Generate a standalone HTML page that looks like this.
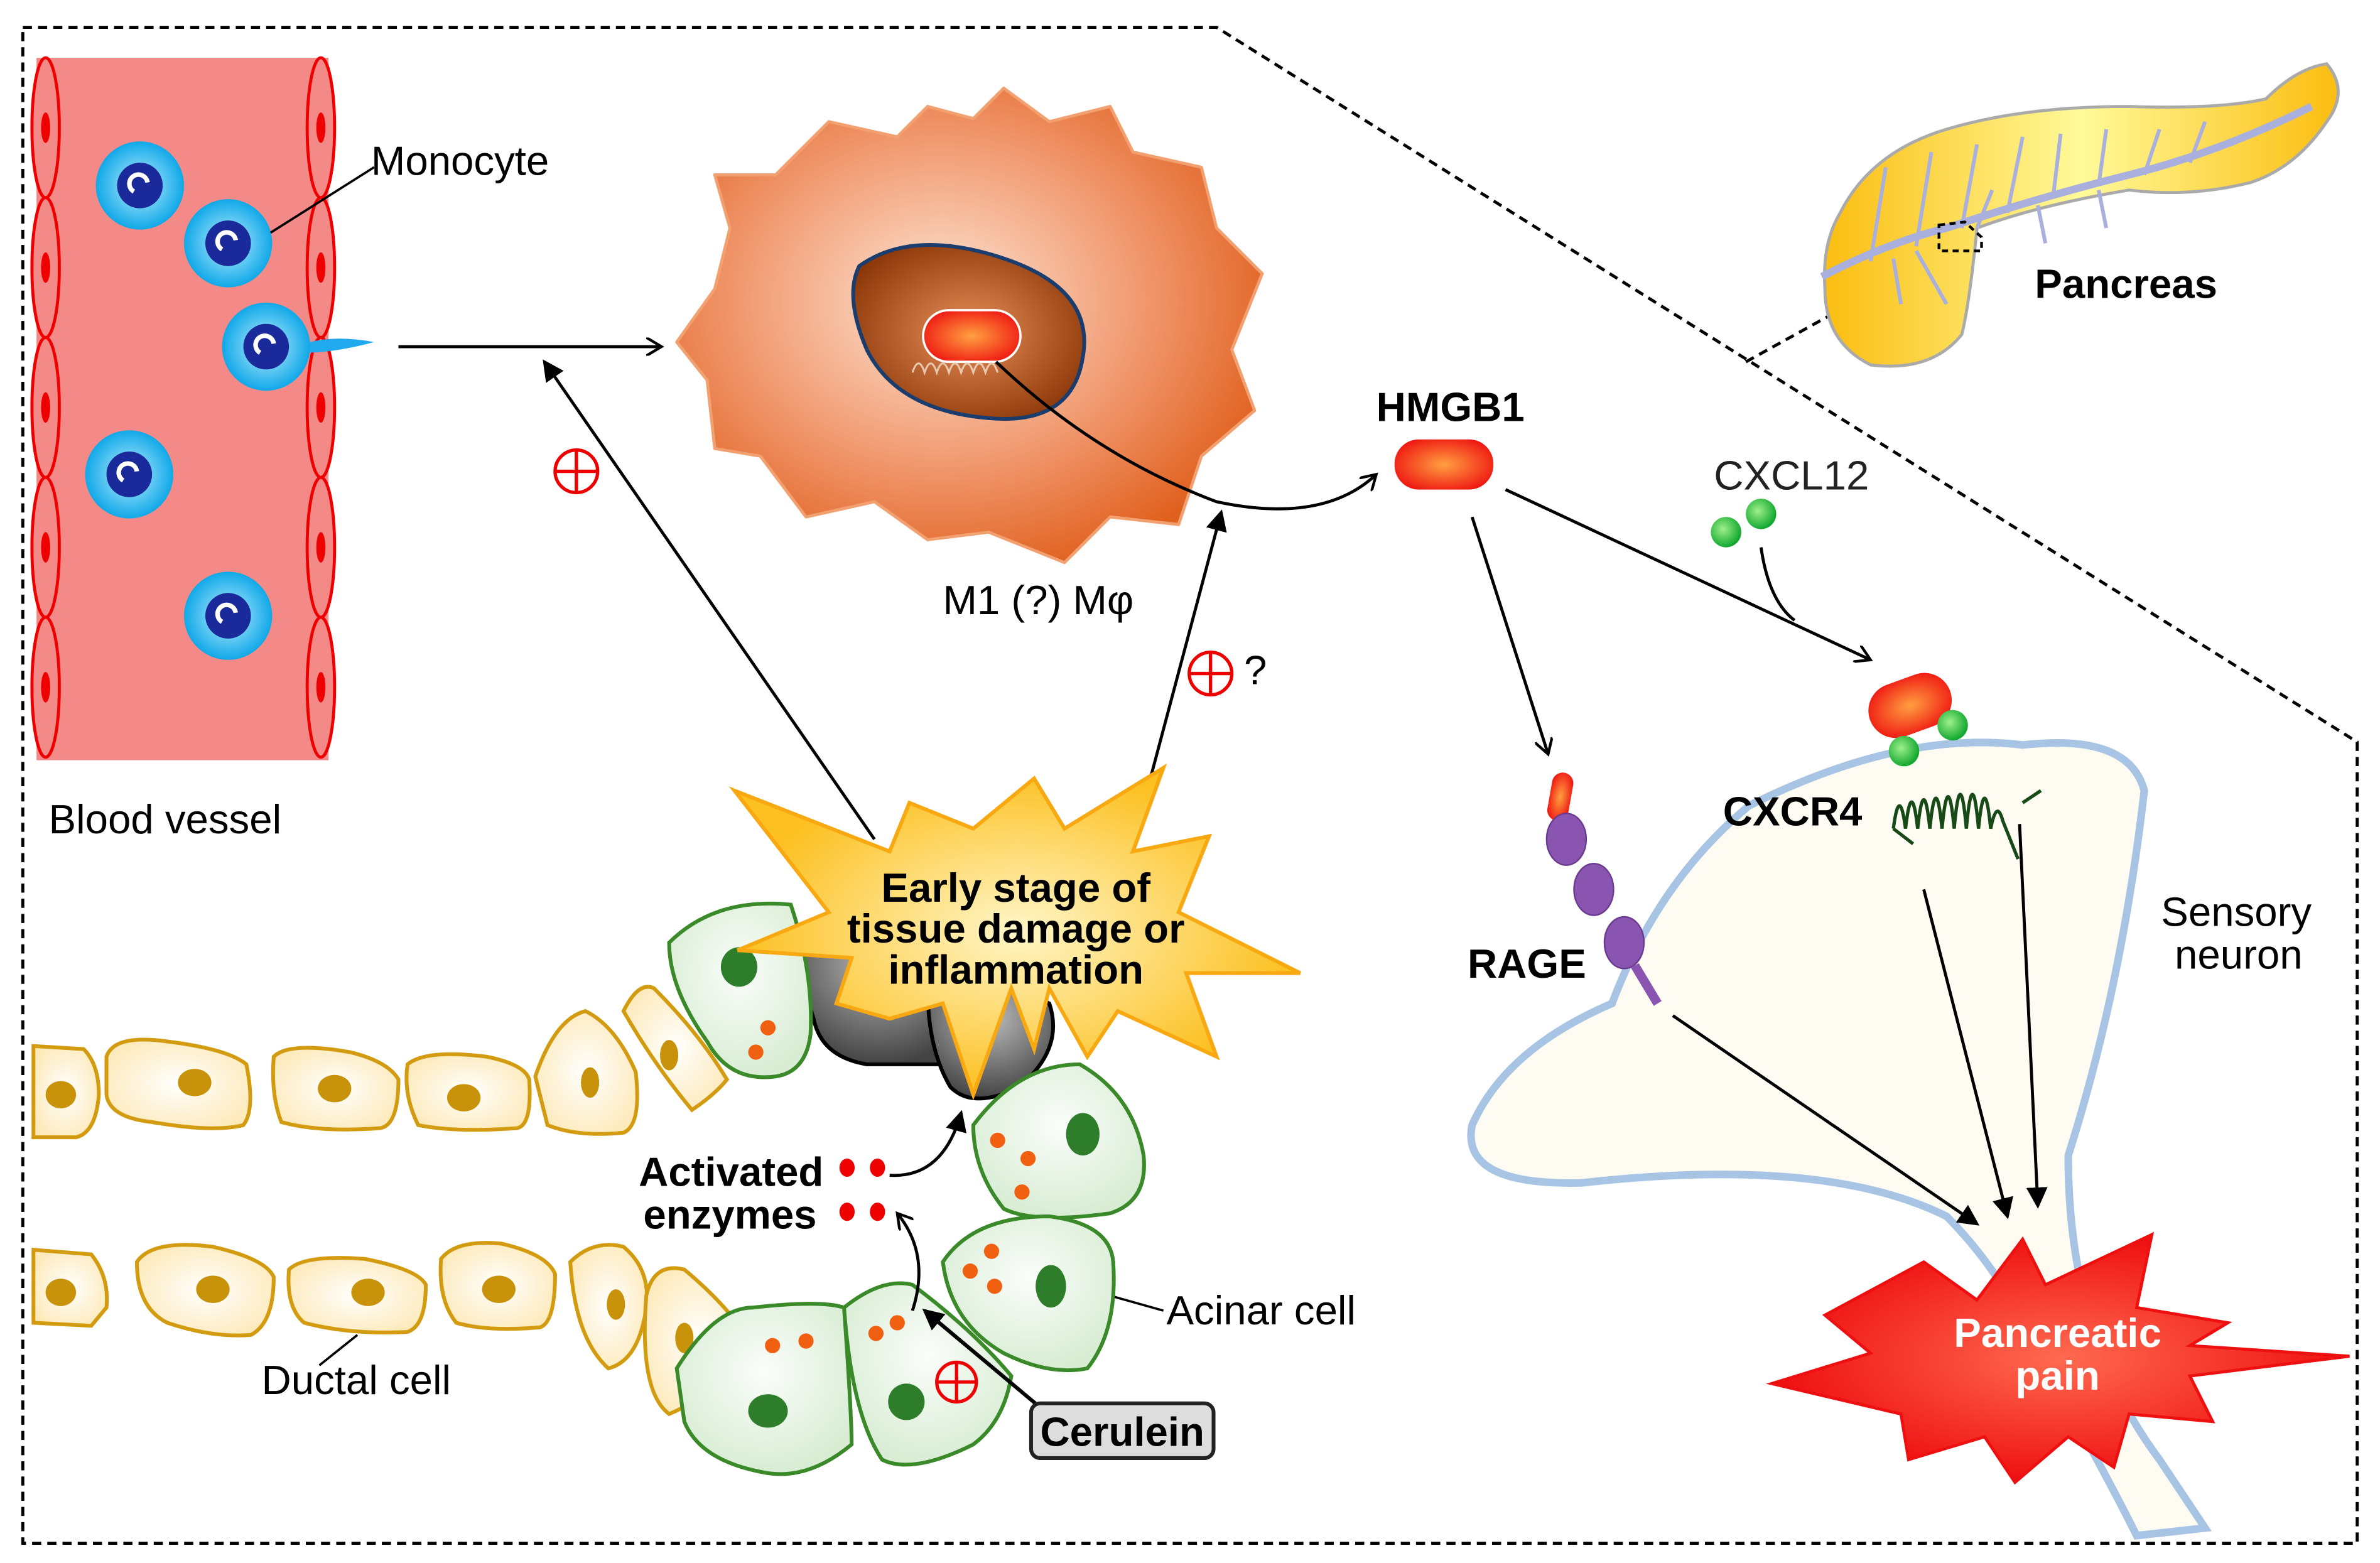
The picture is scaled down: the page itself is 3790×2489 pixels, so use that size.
<!DOCTYPE html>
<html><head><meta charset="utf-8"><style>html,body{margin:0;padding:0;background:#fff}svg{display:block}</style></head><body>
<svg width="3790" height="2489" viewBox="0 0 1565 1028" preserveAspectRatio="none" xmlns="http://www.w3.org/2000/svg" font-family="Liberation Sans, Arial, sans-serif">
<defs>
<radialGradient id="mac" cx="0.45" cy="0.45" r="0.6"><stop offset="0" stop-color="#fde6d6"/><stop offset="0.6" stop-color="#f0956a"/><stop offset="1" stop-color="#e0601e"/></radialGradient>
<radialGradient id="nuc" cx="0.5" cy="0.5" r="0.6"><stop offset="0" stop-color="#e8905a"/><stop offset="1" stop-color="#8a3506"/></radialGradient>
<radialGradient id="red" cx="0.5" cy="0.5" r="0.6"><stop offset="0" stop-color="#ffa040"/><stop offset="1" stop-color="#ee1010"/></radialGradient>
<radialGradient id="mono" cx="0.5" cy="0.5" r="0.5"><stop offset="0" stop-color="#bff0ff"/><stop offset="1" stop-color="#10a8e8"/></radialGradient>
<radialGradient id="yel" cx="0.5" cy="0.5" r="0.5"><stop offset="0" stop-color="#fff6c8"/><stop offset="1" stop-color="#fcc020"/></radialGradient>
<radialGradient id="duct" cx="0.5" cy="0.5" r="0.6"><stop offset="0" stop-color="#fff"/><stop offset="1" stop-color="#fde9b8"/></radialGradient>
<radialGradient id="acin" cx="0.5" cy="0.4" r="0.6"><stop offset="0" stop-color="#fbfdfb"/><stop offset="1" stop-color="#d8edd4"/></radialGradient>
<radialGradient id="grn" cx="0.4" cy="0.4" r="0.6"><stop offset="0" stop-color="#9ef08a"/><stop offset="1" stop-color="#12a830"/></radialGradient>
<linearGradient id="panc" x1="0" x2="1"><stop offset="0" stop-color="#fbbd10"/><stop offset="0.5" stop-color="#fffa9a"/><stop offset="1" stop-color="#fbbd10"/></linearGradient>
<radialGradient id="pain" cx="0.5" cy="0.5" r="0.5"><stop offset="0" stop-color="#ff6a50"/><stop offset="1" stop-color="#ee1010"/></radialGradient>
<radialGradient id="gray" cx="0.5" cy="0.3" r="0.7"><stop offset="0" stop-color="#bbb"/><stop offset="1" stop-color="#444"/></radialGradient>
<marker id="ar" markerWidth="12" markerHeight="12" refX="10" refY="6" orient="auto" markerUnits="userSpaceOnUse"><path d="M0,0 L10,6 L0,12" fill="none" stroke="#000" stroke-width="1.8"/></marker>
<marker id="af" markerWidth="14" markerHeight="14" refX="12" refY="7" orient="auto" markerUnits="userSpaceOnUse"><path d="M0,0 L14,7 L0,14 z" fill="#000"/></marker>
</defs>

<path d="M15,18 L800,18 L1550,488 L1550,1015 L15,1015 Z" fill="none" stroke="#000" stroke-width="2" stroke-dasharray="6,4"/>
<path d="M1148,238 L1280,165" stroke="#000" stroke-width="2" stroke-dasharray="6,4"/>

<rect x="24" y="38" width="192" height="462" fill="#f48a88"/>
<g fill="#f48a88" stroke="#e00" stroke-width="2">
<ellipse cx="30" cy="84" rx="9" ry="46"/><ellipse cx="30" cy="176" rx="9" ry="46"/><ellipse cx="30" cy="268" rx="9" ry="46"/><ellipse cx="30" cy="360" rx="9" ry="46"/><ellipse cx="30" cy="452" rx="9" ry="46"/>
<ellipse cx="211" cy="84" rx="9" ry="46"/><ellipse cx="211" cy="176" rx="9" ry="46"/><ellipse cx="211" cy="268" rx="9" ry="46"/><ellipse cx="211" cy="360" rx="9" ry="46"/><ellipse cx="211" cy="452" rx="9" ry="46"/>
</g>
<g fill="#e00"><ellipse cx="30" cy="84" rx="3" ry="10"/><ellipse cx="30" cy="176" rx="3" ry="10"/><ellipse cx="30" cy="268" rx="3" ry="10"/><ellipse cx="30" cy="360" rx="3" ry="10"/><ellipse cx="30" cy="452" rx="3" ry="10"/><ellipse cx="211" cy="84" rx="3" ry="10"/><ellipse cx="211" cy="176" rx="3" ry="10"/><ellipse cx="211" cy="268" rx="3" ry="10"/><ellipse cx="211" cy="360" rx="3" ry="10"/><ellipse cx="211" cy="452" rx="3" ry="10"/></g>
<path d="M200,226 Q220,220 246,225 Q220,232 200,232Z" fill="#22aaee"/>
<g>
<circle cx="92" cy="122" r="29" fill="url(#mono)"/><circle cx="92" cy="122" r="15" fill="#1a2a9a"/>
<circle cx="150" cy="160" r="29" fill="url(#mono)"/><circle cx="150" cy="160" r="15" fill="#1a2a9a"/>
<circle cx="175" cy="228" r="29" fill="url(#mono)"/><circle cx="175" cy="228" r="15" fill="#1a2a9a"/>
<circle cx="85" cy="312" r="29" fill="url(#mono)"/><circle cx="85" cy="312" r="15" fill="#1a2a9a"/>
<circle cx="150" cy="405" r="29" fill="url(#mono)"/><circle cx="150" cy="405" r="15" fill="#1a2a9a"/>
</g>
<g fill="none" stroke="#fff" stroke-width="3"><path d="M88,126 a6,6 0 1 1 9,-6"/><path d="M146,164 a6,6 0 1 1 9,-6"/><path d="M171,232 a6,6 0 1 1 9,-6"/><path d="M81,316 a6,6 0 1 1 9,-6"/><path d="M146,409 a6,6 0 1 1 9,-6"/></g>
<line x1="178" y1="153" x2="246" y2="110" stroke="#000" stroke-width="1.5"/>
<text x="244" y="115" font-size="27">Monocyte</text>
<text x="32" y="548" font-size="27">Blood vessel</text>

<path d="M545,80 L590,90 L610,70 L640,78 L660,58 L690,80 L730,70 L745,100 L790,110 L800,150 L830,180 L810,230 L825,270 L790,300 L775,345 L730,340 L700,370 L650,350 L610,355 L575,330 L530,340 L500,300 L470,295 L465,250 L445,225 L470,190 L480,150 L470,115 L510,115 Z" fill="url(#mac)" stroke="#f2a070" stroke-width="2" stroke-linejoin="round"/>
<path d="M565,175 Q600,150 660,170 Q720,190 712,235 Q705,280 650,275 Q590,270 570,230 Q555,195 565,175Z" fill="url(#nuc)" stroke="#1b3d6e" stroke-width="2.5"/>
<rect x="607" y="204" width="64" height="34" rx="17" fill="url(#red)" stroke="#fff" stroke-width="1.5"/>
<path d="M600,245 q4,-12 8,0 q4,-12 8,0 q4,-12 8,0 q4,-12 8,0 q4,-12 8,0 q4,-12 8,0 q4,-12 8,0" fill="none" stroke="#e8c8b0" stroke-width="1.3"/>
<text x="620" y="404" font-size="27">M1 (?) Mφ</text>
<path d="M655,238 Q720,300 800,330 Q870,345 905,312" fill="none" stroke="#000" stroke-width="2" marker-end="url(#ar)"/>

<line x1="262" y1="228" x2="435" y2="228" stroke="#000" stroke-width="2" marker-end="url(#ar)"/>
<line x1="575" y1="552" x2="358" y2="238" stroke="#000" stroke-width="2" marker-end="url(#af)"/>
<line x1="745" y1="555" x2="803" y2="337" stroke="#000" stroke-width="2" marker-end="url(#af)"/>
<g fill="none" stroke="#e00" stroke-width="2.2"><circle cx="379" cy="310" r="14"/><path d="M365,310 h28 M379,296 v28"/><circle cx="796" cy="443" r="14"/><path d="M782,443 h28 M796,429 v28"/></g>
<text x="818" y="450" font-size="27">?</text>

<text x="905" y="277" font-size="27" font-weight="bold">HMGB1</text>
<rect x="917" y="289" width="65" height="33" rx="16" fill="url(#red)"/>
<line x1="968" y1="340" x2="1018" y2="496" stroke="#000" stroke-width="2" marker-end="url(#ar)"/>
<line x1="990" y1="322" x2="1230" y2="434" stroke="#000" stroke-width="2" marker-end="url(#ar)"/>
<path d="M1158,360 Q1163,395 1180,408" fill="none" stroke="#000" stroke-width="2"/>
<text x="1127" y="322" font-size="27" fill="#222">CXCL12</text>
<circle cx="1135" cy="350" r="10" fill="url(#grn)"/><circle cx="1158" cy="338" r="10" fill="url(#grn)"/>

<path d="M1210,140 Q1230,100 1280,85 Q1330,70 1400,70 Q1460,72 1490,65 Q1510,45 1530,42 Q1545,60 1530,80 Q1510,110 1480,120 Q1440,130 1400,125 Q1340,135 1300,150 Q1295,200 1290,220 Q1270,245 1230,240 Q1200,225 1200,190 Q1198,160 1210,140Z" fill="url(#panc)" stroke="#aaa" stroke-width="2"/>
<path d="M1198,182 Q1240,160 1280,150 Q1340,130 1400,115 Q1460,100 1520,70" fill="none" stroke="#aab0dd" stroke-width="5"/>
<g fill="none" stroke="#aab0dd" stroke-width="2.5"><path d="M1230,172 L1240,110 M1260,162 L1270,100 M1290,150 L1300,95 M1320,140 L1330,90 M1350,130 L1355,88 M1380,122 L1385,85 M1410,115 L1420,85 M1440,107 L1450,80 M1300,150 L1310,125 M1340,135 L1345,160 M1380,125 L1385,150 M1245,170 L1250,200 M1260,165 L1280,200"/></g>
<path d="M1275,148 L1292,146 L1303,156 L1303,165 L1275,165Z" fill="none" stroke="#000" stroke-width="1.8" stroke-dasharray="4,3"/>
<text x="1338" y="196" font-size="27" font-weight="bold">Pancreas</text>

<path d="M1150,530 Q1250,480 1330,490 Q1400,482 1410,520 Q1395,650 1360,760 Q1360,880 1420,960 L1450,1005 L1405,1010 Q1380,960 1345,900 Q1320,840 1280,800 Q1200,760 1040,778 Q960,780 968,740 Q990,690 1060,660 Q1090,580 1150,530Z" fill="#fdfbf2" stroke="#a8c4e4" stroke-width="5"/>
<text x="1421" y="609" font-size="27">Sensory</text>
<text x="1430" y="637" font-size="27">neuron</text>

<rect x="1019" y="508" width="14" height="32" rx="7" fill="url(#red)" transform="rotate(10 1026 524)"/>
<g fill="#8a55b0" stroke="#6a3a90" stroke-width="1"><ellipse cx="1030" cy="552" rx="13" ry="17"/><ellipse cx="1048" cy="585" rx="13" ry="17"/><ellipse cx="1068" cy="620" rx="13" ry="17"/></g>
<line x1="1075" y1="635" x2="1090" y2="660" stroke="#8a55b0" stroke-width="6"/>
<text x="965" y="643" font-size="27" font-weight="bold">RAGE</text>

<rect x="1228" y="446" width="56" height="36" rx="18" fill="url(#red)" transform="rotate(-20 1256 464)"/>
<circle cx="1252" cy="494" r="10" fill="url(#grn)"/><circle cx="1284" cy="477" r="10" fill="url(#grn)"/>
<path d="M1245,545 q4,-30 8,0 q4,-35 8,0 q4,-38 8,0 q4,-40 8,0 q4,-42 8,0 q4,-45 8,0 q4,-45 8,0 q4,-40 8,0 q4,-20 8,-5 l10,25 M1245,545 L1258,555 M1330,528 L1342,520" fill="none" stroke="#184a18" stroke-width="2.2"/>
<text x="1133" y="543" font-size="27" font-weight="bold">CXCR4</text>

<line x1="1100" y1="668" x2="1300" y2="805" stroke="#000" stroke-width="2" marker-end="url(#af)"/>
<line x1="1265" y1="585" x2="1320" y2="800" stroke="#000" stroke-width="2" marker-end="url(#af)"/>
<line x1="1328" y1="542" x2="1340" y2="793" stroke="#000" stroke-width="2" marker-end="url(#af)"/>

<path d="M1265,830 L1300,855 L1330,815 L1345,845 L1415,812 L1405,860 L1465,870 L1440,885 L1545,892 L1440,905 L1455,935 L1400,930 L1390,965 L1360,945 L1325,975 L1305,945 L1255,960 L1250,930 L1165,910 L1230,890 L1200,865 Z" fill="url(#pain)" stroke="#ee1010" stroke-width="2"/>
<text x="1353" y="886" font-size="27" font-weight="bold" fill="#fff" text-anchor="middle">Pancreatic</text>
<text x="1353" y="914" font-size="27" font-weight="bold" fill="#fff" text-anchor="middle">pain</text>

<g fill="url(#duct)" stroke="#d39c10" stroke-width="2.5">
<path d="M22,688 L55,690 Q65,700 65,720 Q63,745 50,748 L22,748Z"/>
<path d="M70,695 Q75,680 110,685 Q150,690 162,700 Q168,730 160,740 Q140,745 100,738 Q72,735 70,720Z"/>
<path d="M180,695 Q190,685 230,692 Q255,698 262,710 Q262,740 250,742 Q210,745 185,738 Q178,720 180,695Z"/>
<path d="M268,700 Q280,690 320,695 Q345,700 348,710 Q350,740 340,742 Q300,745 275,740 Q265,720 268,700Z"/>
<path d="M352,708 Q365,670 385,665 Q405,675 418,705 Q422,740 410,745 Q380,748 360,740Z"/>
<path d="M410,665 Q420,645 430,650 Q460,680 478,710 Q470,720 455,730 Q430,700 410,665Z"/>
</g>
<g fill="#c8920a"><ellipse cx="40" cy="720" rx="10" ry="9"/><ellipse cx="128" cy="712" rx="11" ry="9"/><ellipse cx="220" cy="716" rx="11" ry="9"/><ellipse cx="305" cy="722" rx="11" ry="9"/><ellipse cx="388" cy="712" rx="6" ry="10"/><ellipse cx="440" cy="694" rx="6" ry="10"/></g>
<g fill="url(#duct)" stroke="#d39c10" stroke-width="2.5">
<path d="M22,822 L60,825 Q72,840 70,860 L60,872 L22,870Z"/>
<path d="M90,830 Q100,815 140,820 Q175,828 180,840 Q180,870 165,878 Q140,880 110,870 Q90,860 90,830Z"/>
<path d="M190,835 Q200,825 240,828 Q275,835 280,845 Q280,872 268,876 Q230,878 200,870 Q188,860 190,835Z"/>
<path d="M290,828 Q300,815 330,818 Q360,825 365,838 Q365,870 355,873 Q320,876 300,870 Q288,855 290,828Z"/>
<path d="M375,830 Q390,815 410,820 Q428,835 425,860 Q420,895 400,900 Q378,880 375,830Z"/>
<path d="M425,852 Q430,830 450,835 Q480,860 495,885 Q475,915 440,930 Q420,915 425,852Z"/>
</g>
<g fill="#c8920a"><ellipse cx="40" cy="850" rx="10" ry="9"/><ellipse cx="140" cy="848" rx="11" ry="9"/><ellipse cx="242" cy="850" rx="11" ry="9"/><ellipse cx="328" cy="848" rx="11" ry="9"/><ellipse cx="405" cy="858" rx="6" ry="10"/><ellipse cx="450" cy="880" rx="6" ry="10"/></g>
<line x1="235" y1="878" x2="210" y2="898" stroke="#000" stroke-width="1.5"/>
<text x="172" y="917" font-size="27">Ductal cell</text>

<path d="M530,620 Q560,600 610,605 Q640,640 620,700 Q600,700 570,700 Q540,695 535,670 Q525,640 530,620Z" fill="url(#gray)" stroke="#000" stroke-width="2.5"/>
<path d="M610,650 Q650,640 690,660 Q700,690 670,715 Q640,730 625,715 Q610,690 610,650Z" fill="url(#gray)" stroke="#000" stroke-width="2.5"/>

<g fill="url(#acin)" stroke="#3a8a2a" stroke-width="2.5">
<path d="M440,620 Q470,590 520,595 Q535,640 533,680 Q530,705 510,708 Q480,712 465,685 Q440,650 440,620Z"/>
<path d="M640,740 Q670,700 710,700 Q745,720 752,760 Q755,790 730,798 Q680,805 660,795 Q640,770 640,740Z"/>
<path d="M620,830 Q640,800 690,800 Q730,805 732,830 Q735,875 715,900 Q690,905 660,890 Q625,870 620,830Z"/>
<path d="M555,860 Q580,840 600,845 Q640,875 665,905 Q660,935 640,950 Q600,970 580,960 Q560,930 555,860Z"/>
<path d="M445,900 Q470,860 495,860 Q540,855 555,860 Q560,930 560,950 Q530,975 500,968 Q460,960 450,935Z"/>
</g>
<g fill="#2e7d2a"><ellipse cx="486" cy="636" rx="12" ry="13"/><ellipse cx="712" cy="746" rx="11" ry="14"/><ellipse cx="691" cy="846" rx="10" ry="14"/><ellipse cx="596" cy="922" rx="12" ry="12"/><ellipse cx="505" cy="928" rx="13" ry="11"/></g>
<g fill="#f06010"><circle cx="505" cy="676" r="5"/><circle cx="497" cy="692" r="5"/><circle cx="656" cy="750" r="5"/><circle cx="676" cy="762" r="5"/><circle cx="672" cy="784" r="5"/><circle cx="652" cy="823" r="5"/><circle cx="638" cy="836" r="5"/><circle cx="654" cy="846" r="5"/><circle cx="508" cy="885" r="5"/><circle cx="530" cy="882" r="5"/><circle cx="576" cy="877" r="5"/><circle cx="590" cy="870" r="5"/></g>
<g fill="none" stroke="#e00" stroke-width="2.2"><circle cx="629" cy="909" r="13"/><path d="M616,909 h26 M629,896 v26"/></g>

<path d="M483,520 L585,560 L598,528 L640,545 L680,512 L700,545 L765,505 L745,560 L795,550 L775,600 L855,640 L780,640 L800,695 L735,665 L715,695 L690,650 L680,690 L665,650 L640,720 L620,660 L585,670 L550,660 L560,630 L485,625 L545,600 Z" fill="url(#yel)" stroke="#f8a810" stroke-width="2.5" stroke-linejoin="miter"/>
<text x="668" y="593" font-size="27" font-weight="bold" text-anchor="middle">Early stage of</text>
<text x="668" y="620" font-size="27" font-weight="bold" text-anchor="middle">tissue damage or</text>
<text x="668" y="647" font-size="27" font-weight="bold" text-anchor="middle">inflammation</text>

<text x="420" y="780" font-size="27" font-weight="bold">Activated</text>
<text x="423" y="808" font-size="27" font-weight="bold">enzymes</text>
<g fill="#e00"><ellipse cx="557" cy="768" rx="5" ry="6"/><ellipse cx="577" cy="768" rx="5" ry="6"/><ellipse cx="557" cy="797" rx="5" ry="6"/><ellipse cx="577" cy="797" rx="5" ry="6"/></g>
<path d="M585,773 Q620,775 632,732" fill="none" stroke="#000" stroke-width="2" marker-end="url(#af)"/>
<path d="M600,862 Q612,825 590,798" fill="none" stroke="#000" stroke-width="2" marker-end="url(#ar)"/>
<line x1="682" y1="924" x2="608" y2="862" stroke="#000" stroke-width="2.5" marker-end="url(#af)"/>
<rect x="678" y="923" width="120" height="36" rx="6" fill="#ddd" stroke="#222" stroke-width="2.5"/>
<text x="738" y="951" font-size="27" font-weight="bold" text-anchor="middle">Cerulein</text>
<line x1="733" y1="853" x2="765" y2="862" stroke="#000" stroke-width="1.5"/>
<text x="767" y="871" font-size="27">Acinar cell</text>
</svg>
</body></html>
